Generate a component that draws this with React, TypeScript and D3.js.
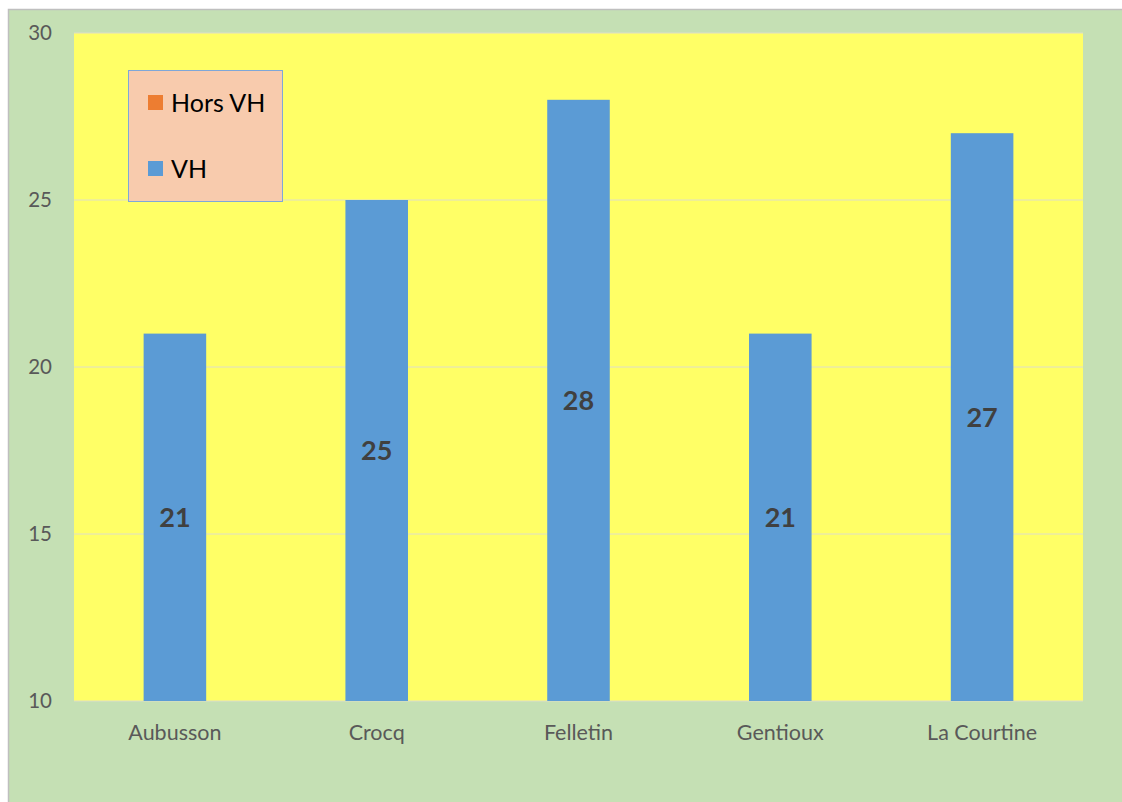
import React from "react";
import * as d3 from "d3";

const categories = ["Aubusson", "Crocq", "Felletin", "Gentioux", "La Courtine"];
const vhValues = [21, 25, 28, 21, 27];
const seriesNames = ["Hors VH", "VH"];
const seriesColors = ["#ed7d31", "#5b9bd5"];
const yTicks = [10, 15, 20, 25, 30];

const W = 1122;
const H = 802;
const plot = { left: 74, right: 1083, top: 33, bottom: 701 };
const FONT = "Lato, 'Open Sans', sans-serif";

export default function App() {
  const x = d3
    .scaleBand<string>()
    .domain(categories)
    .range([plot.left, plot.right])
    .paddingInner(0.69)
    .paddingOuter(0.345);
  const y = d3.scaleLinear().domain([10, 30]).range([plot.bottom, plot.top]);

  return (
    <svg
      width={W}
      height={H}
      style={{ position: "absolute", left: 0, top: 0, display: "block" }}
    >
      <rect x={8.5} y={9.5} width={W + 10} height={H + 10} fill="#c5e0b4" stroke="#bfbfbf" strokeWidth={1.5} />
      <rect
        x={plot.left}
        y={plot.top}
        width={plot.right - plot.left}
        height={plot.bottom - plot.top}
        fill="#ffff66"
      />
      {yTicks.map((t) => (
        <line
          key={"g" + t}
          x1={plot.left}
          x2={plot.right}
          y1={y(t)}
          y2={y(t)}
          stroke="#dedec8"
          strokeWidth={1}
        />
      ))}
      {yTicks.map((t) => (
        <text
          key={"t" + t}
          x={52}
          y={y(t)}
          dy="0.35em"
          textAnchor="end"
          fontFamily={FONT}
          fontSize={20.5}
          fill="#595959"
        >
          {t}
        </text>
      ))}
      {categories.map((c, i) => (
        <g key={c}>
          <rect
            x={x(c)}
            y={y(vhValues[i])}
            width={x.bandwidth()}
            height={y(10) - y(vhValues[i])}
            fill={seriesColors[1]}
          />
          <text
            x={(x(c) as number) + x.bandwidth() / 2}
            y={(y(vhValues[i]) + y(10)) / 2}
            dy="0.35em"
            textAnchor="middle"
            fontFamily={FONT}
            fontSize={27}
            fontWeight="bold"
            fill="#404040"
          >
            {vhValues[i]}
          </text>
          <text
            x={(x(c) as number) + x.bandwidth() / 2}
            y={732}
            dy="0.35em"
            textAnchor="middle"
            fontFamily={FONT}
            fontSize={21.5}
            fill="#595959"
          >
            {c}
          </text>
        </g>
      ))}
      <rect x={128.5} y={70.5} width={154} height={131} fill="#f8cbad" stroke="#7fa7d8" strokeWidth={1} />
      {seriesNames.map((s, i) => (
        <g key={s}>
          <rect x={148} y={95 + i * 66} width={15} height={15} fill={seriesColors[i]} />
          <text
            x={171}
            y={103 + i * 66}
            dy="0.35em"
            fontFamily={FONT}
            fontSize={25}
            fill="#000000"
          >
            {s}
          </text>
        </g>
      ))}
    </svg>
  );
}
